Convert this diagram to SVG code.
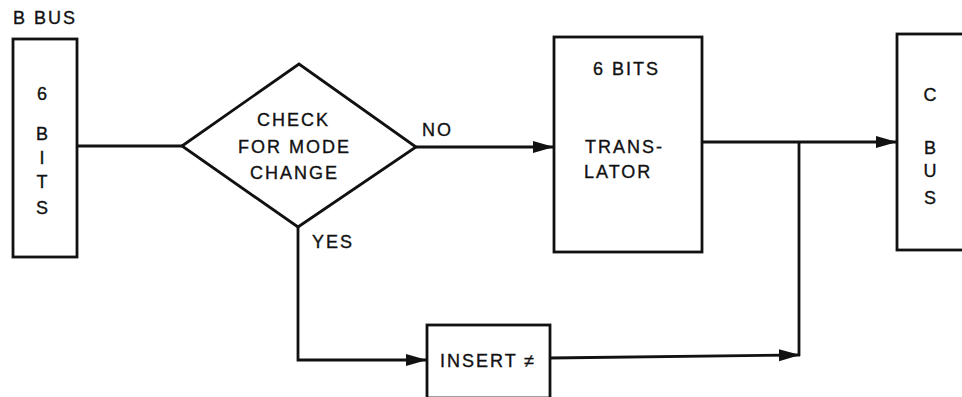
<svg xmlns="http://www.w3.org/2000/svg" width="962" height="397" viewBox="0 0 962 397">
<defs>
<style>
.box{fill:none;stroke:#111;stroke-width:2.8}
.ln{fill:none;stroke:#111;stroke-width:2.8}
.t{font-family:"Liberation Sans",Arial,sans-serif;font-size:18px;fill:#111;stroke:#111;stroke-width:0.35;letter-spacing:2px}
.c{font-family:"Liberation Sans",Arial,sans-serif;font-size:18px;fill:#111;stroke:#111;stroke-width:0.35;text-anchor:middle}
</style>
<marker id="ah" markerUnits="userSpaceOnUse" markerWidth="22" markerHeight="14" viewBox="0 0 22 14" refX="21" refY="7" orient="auto">
<path d="M0,1 L21,7 L0,13 Z" fill="#111"/>
</marker>
</defs>
<rect width="962" height="397" fill="#fff"/>
<text class="t" x="13" y="24">B BUS</text>
<g id="bbits">
<rect class="box" x="13" y="39" width="64" height="218"/>
<text class="c" x="42" y="100">6</text>
<text class="c" x="42" y="140">B</text>
<text class="c" x="42" y="164">I</text>
<text class="c" x="42" y="188">T</text>
<text class="c" x="42" y="214">S</text>
</g>
<g id="check">
<polygon class="box" points="182,146 299,64 416,147 298,227"/>
<text class="t" x="257" y="126">CHECK</text>
<text class="t" x="238" y="153">FOR MODE</text>
<text class="t" x="250" y="179">CHANGE</text>
</g>
<g id="translator">
<rect class="box" x="554" y="37" width="148" height="215"/>
<text class="t" x="593" y="75">6 BITS</text>
<text class="t" x="585" y="153">TRANS-</text>
<text class="t" x="584" y="178">LATOR</text>
</g>
<g id="cbus">
<rect class="box" x="897" y="34" width="90" height="216"/>
<text class="c" x="930" y="101">C</text>
<text class="c" x="930" y="154">B</text>
<text class="c" x="930" y="177">U</text>
<text class="c" x="930" y="204">S</text>
</g>
<g id="insert">
<rect class="box" x="427" y="325" width="123" height="73"/>
<text class="t" x="440" y="367">INSERT ≠</text>
</g>
<g id="connectors">
<path class="ln" d="M77,146 L182,146"/>
<path class="ln" d="M416,147 L554,147" marker-end="url(#ah)"/>
<path class="ln" d="M702,142 L897,142" marker-end="url(#ah)"/>
<path class="ln" d="M799,142 L799,356"/>
<path class="ln" d="M298,227 L298,360 L427,360" marker-end="url(#ah)"/>
<path class="ln" d="M550,358 L800,355" marker-end="url(#ah)"/>
<text class="t" x="422" y="136">NO</text>
<text class="t" x="312" y="248">YES</text>
</g>
</svg>
